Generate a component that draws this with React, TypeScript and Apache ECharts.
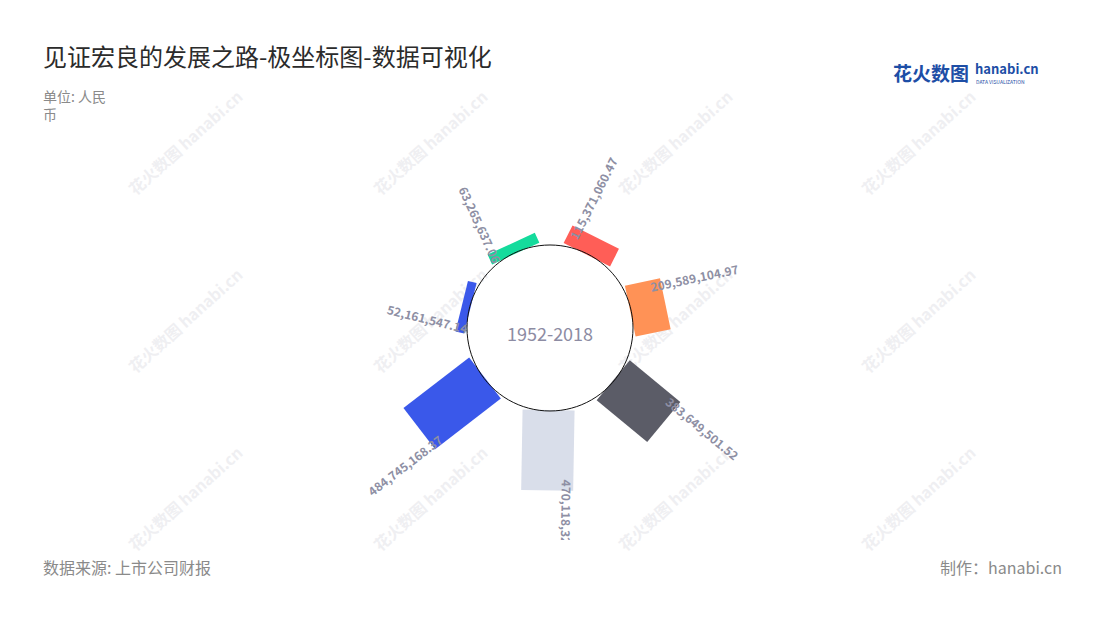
import React, { useEffect, useRef } from 'react';
import * as echarts from 'echarts';

// ---- data ----
const categories = ['第1期', '第2期', '第3期', '第4期', '第5期', '第6期', '第7期'];
const values = [115371060.47, 209589104.97, 383649501.52, 470118326.3, 484745168.37, 52161547.14, 63265637.06];
const barColors = ['#FF5E57', '#FF9256', '#5B5C67', '#D9DEEA', '#3A58EA', '#3A58EA', '#14DB9C'];
const periodLabel = '1952-2018';
const radiusMax = 500000000;

const titleText = '见证宏良的发展之路-极坐标图-数据可视化';
const unitText = '单位: 人民\n币';
const sourceText = '数据来源: 上市公司财报';
const makerText = '制作：hanabi.cn';
const watermarkText = '花火数图 hanabi.cn';
const watermarkXs = [185, 430, 675, 918];
const watermarkYs = [142, 320, 498];

// ---- layout ----
const W = 1100;
const H = 620;
const CX = 550;
const CY = 328;
const R0 = 82;
const R1 = 167.5;
const BAR_W = 52;
const FONT = "'Noto Sans CJK SC', 'Noto Sans', sans-serif";

const fmt = (v: number) =>
  v.toLocaleString('en-US', { minimumFractionDigits: 2, maximumFractionDigits: 2 });

export default function App() {
  const ref = useRef<HTMLDivElement>(null);

  useEffect(() => {
    if (!ref.current) return;
    const chart = echarts.init(ref.current, undefined, { renderer: 'svg' });

    const watermarks: any[] = [];
    watermarkYs.forEach((y) =>
      watermarkXs.forEach((x) => {
        watermarks.push({
          type: 'text',
          x,
          y,
          rotation: (42 * Math.PI) / 180,
          z: -10,
          silent: true,
          style: {
            text: watermarkText,
            fill: '#efeff2',
            fontSize: 16,
            fontWeight: 'bold',
            fontFamily: FONT,
            align: 'center',
            verticalAlign: 'middle',
          },
        });
      })
    );

    const option: any = {
      animation: false,
      backgroundColor: '#ffffff',
      textStyle: { fontFamily: FONT },
      title: {
        text: titleText,
        left: 38,
        top: 38,
        textStyle: { fontSize: 24, fontWeight: 'normal', color: '#2b2b2b', fontFamily: FONT },
      },
      polar: { center: [CX, CY], radius: [R0, R1] },
      angleAxis: {
        type: 'category',
        data: categories,
        startAngle: 89,
        clockwise: true,
        show: false,
      },
      radiusAxis: { type: 'value', min: 0, max: radiusMax, show: false },
      series: [
        {
          type: 'custom',
          coordinateSystem: 'polar',
          data: values.map((v, i) => [v, i]),
          z: 3,
          renderItem: (params: any, api: any) => {
            const v = api.value(0) as number;
            const idx = api.value(1) as number;
            const cs = params.coordSys;
            const cx = cs.cx;
            const cy = cs.cy;
            const p0 = api.coord([0, idx]);
            const p1 = api.coord([v, idx]);
            let ux = p0[0] - cx;
            let uy = p0[1] - cy;
            const len = Math.hypot(ux, uy) || 1;
            ux /= len;
            uy /= len;
            const nx = -uy;
            const ny = ux;
            const h = BAR_W / 2;
            const pts = [
              [p0[0] + nx * h, p0[1] + ny * h],
              [p1[0] + nx * h, p1[1] + ny * h],
              [p1[0] - nx * h, p1[1] - ny * h],
              [p0[0] - nx * h, p0[1] - ny * h],
            ];
            let theta = (Math.atan2(ux, -uy) * 180) / Math.PI;
            if (theta < 0) theta += 360;
            const ccwx = uy;
            const ccwy = -ux;
            const ax = p1[0] - ux * 11 + ccwx * 20;
            const ay = p1[1] - uy * 11 + ccwy * 20;
            const rightSide = theta <= 190;
            const phi = ((rightSide ? 90 - theta : 270 - theta) * Math.PI) / 180;
            return {
              type: 'group',
              children: [
                {
                  type: 'polygon',
                  shape: { points: pts },
                  style: { fill: barColors[idx] },
                },
                {
                  type: 'group',
                  clipPath: { type: 'rect', shape: { x: 0, y: 0, width: W, height: 540 } },
                  children: [
                    {
                      type: 'text',
                      x: ax,
                      y: ay,
                      rotation: phi,
                      z2: 10,
                      style: {
                        text: fmt(v),
                        fill: '#8e8fa4',
                        fontSize: 12,
                        fontWeight: 'bold',
                        fontFamily: FONT,
                        align: rightSide ? 'left' : 'right',
                        verticalAlign: 'middle',
                      },
                    },
                  ],
                },
              ],
            };
          },
        },
      ],
      graphic: [
        ...watermarks,
        {
          type: 'circle',
          shape: { cx: CX, cy: CY, r: R0 + 1 },
          z: 20,
          silent: true,
          style: { fill: 'none', stroke: '#111111', lineWidth: 1 },
        },
        {
          type: 'text',
          x: CX,
          y: 333,
          z: 20,
          style: {
            text: periodLabel,
            fill: '#8d8ca3',
            fontSize: 18,
            fontFamily: FONT,
            align: 'center',
            verticalAlign: 'middle',
          },
        },
        {
          type: 'text',
          x: 43,
          y: 87,
          style: {
            text: unitText,
            fill: '#8a8a8a',
            fontSize: 14,
            lineHeight: 18,
            fontFamily: FONT,
            align: 'left',
            verticalAlign: 'top',
          },
        },
        {
          type: 'text',
          x: 43,
          y: 567,
          style: {
            text: sourceText,
            fill: '#8a8a8a',
            fontSize: 16,
            fontFamily: FONT,
            align: 'left',
            verticalAlign: 'middle',
          },
        },
        {
          type: 'text',
          x: 1062,
          y: 567,
          style: {
            text: makerText,
            fill: '#8a8a8a',
            fontSize: 16,
            fontFamily: FONT,
            align: 'right',
            verticalAlign: 'middle',
          },
        },
        {
          type: 'text',
          x: 893,
          y: 72,
          style: {
            text: '花火数图',
            fill: '#1d4ea6',
            fontSize: 19,
            fontWeight: 'bold',
            fontFamily: FONT,
            align: 'left',
            verticalAlign: 'middle',
          },
        },
        {
          type: 'text',
          x: 975,
          y: 68,
          style: {
            text: 'hanabi.cn',
            fill: '#1d4ea6',
            fontSize: 13,
            fontWeight: 'bold',
            fontFamily: FONT,
            align: 'left',
            verticalAlign: 'middle',
          },
        },
        {
          type: 'text',
          x: 976,
          y: 81,
          style: {
            text: 'DATA VISUALIZATION',
            fill: '#1d4ea6',
            fontSize: 5,
            fontFamily: FONT,
            align: 'left',
            verticalAlign: 'middle',
          },
        },
      ],
    };

    chart.setOption(option);
    return () => chart.dispose();
  }, []);

  return (
    <div
      ref={ref}
      style={{ position: 'fixed', left: 0, top: 0, width: W, height: H, background: '#fff' }}
    />
  );
}
